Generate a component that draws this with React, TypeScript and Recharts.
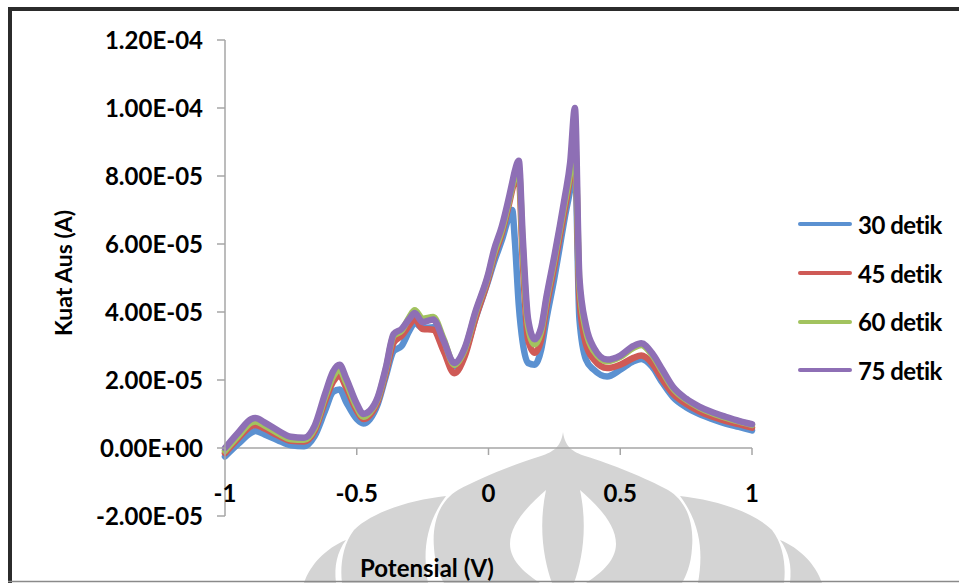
import React from "react";
import { LineChart, Line, XAxis, YAxis, ReferenceLine } from "recharts";

// Potential (V) sampled along the scan; current values are in units of 1E-05 A
const potential = [
  -1.0, -0.95, -0.9, -0.885, -0.85, -0.8, -0.75, -0.7, -0.66, -0.62, -0.59, -0.565, -0.54, -0.5, -0.475, -0.45,
  -0.42, -0.39, -0.36, -0.33, -0.3, -0.28, -0.25, -0.21, -0.17, -0.13, -0.09, -0.05, 0.0, 0.02, 0.05, 0.08, 0.09,
  0.1, 0.115, 0.13, 0.15, 0.175, 0.2, 0.22, 0.25, 0.27, 0.29, 0.31, 0.328, 0.345, 0.37, 0.4, 0.45, 0.5, 0.55,
  0.58, 0.62, 0.66, 0.7, 0.75, 0.8, 0.85, 0.9, 0.95, 1.0,
];

const detik30 = [
  -0.25, 0.12, 0.45, 0.5, 0.4, 0.23, 0.08, 0.05, 0.35, 1.1, 1.65, 1.72, 1.35, 0.85, 0.72, 0.85,
  1.3, 2.1, 2.85, 3.0, 3.45, 3.68, 3.52, 3.55, 2.95, 2.4, 2.8, 3.8, 4.95, 5.45, 6.1, 6.85, 7.0,
  6.1, 4.2, 3.1, 2.5, 2.45, 2.9, 3.8, 5.0, 5.9, 6.8, 7.6, 8.5, 3.8, 2.6, 2.3, 2.1, 2.3, 2.55,
  2.62, 2.4, 1.92, 1.5, 1.2, 1.0, 0.85, 0.72, 0.62, 0.52,
];

const detik45 = [
  -0.15, 0.28, 0.65, 0.68, 0.57, 0.37, 0.21, 0.19, 0.5, 1.38, 1.95, 2.12, 1.78, 1.1, 0.85, 0.97,
  1.38, 2.2, 3.1, 3.3, 3.62, 3.8, 3.5, 3.48, 2.85, 2.2, 2.7, 3.8, 5.0, 5.6, 6.3, 7.25, 7.6,
  7.85, 7.95, 5.5, 3.2, 2.8, 3.2, 4.15, 5.35, 6.2, 7.05, 7.95, 9.0, 4.4, 3.05, 2.6, 2.35, 2.45, 2.65,
  2.72, 2.5, 2.02, 1.6, 1.3, 1.08, 0.92, 0.8, 0.7, 0.6,
];

const detik60 = [
  -0.08, 0.35, 0.75, 0.78, 0.66, 0.44, 0.26, 0.24, 0.58, 1.5, 2.1, 2.3, 1.92, 1.2, 0.92, 1.05,
  1.45, 2.3, 3.3, 3.45, 3.85, 4.05, 3.8, 3.85, 3.2, 2.45, 2.9, 3.95, 5.1, 5.7, 6.4, 7.35, 7.7,
  8.0, 8.2, 5.9, 3.6, 3.05, 3.45, 4.35, 5.55, 6.4, 7.25, 8.1, 9.15, 4.8, 3.45, 2.85, 2.55, 2.68, 2.95,
  3.03, 2.75, 2.25, 1.76, 1.42, 1.19, 1.02, 0.89, 0.78, 0.68,
];

const detik75 = [
  0.0, 0.45, 0.85, 0.88, 0.75, 0.52, 0.33, 0.3, 0.65, 1.6, 2.25, 2.45, 2.05, 1.3, 1.0, 1.1,
  1.5, 2.35, 3.35, 3.5, 3.8, 3.97, 3.7, 3.78, 3.15, 2.5, 2.95, 4.0, 5.15, 5.8, 6.5, 7.45, 7.8,
  8.15, 8.45, 6.2, 3.8, 3.2, 3.55, 4.45, 5.65, 6.5, 7.4, 8.4, 10.0, 5.0, 3.6, 2.95, 2.6, 2.72, 3.0,
  3.08, 2.8, 2.3, 1.8, 1.45, 1.22, 1.05, 0.92, 0.8, 0.7,
];

const xTicks = [-1, -0.5, 0, 0.5, 1];
const yTicks = [-2, 0, 2, 4, 6, 8, 10, 12];

const series = [
  { key: "d30", name: "30 detik", color: "#5b91d1", values: detik30 },
  { key: "d45", name: "45 detik", color: "#cf5a56", values: detik45 },
  { key: "d60", name: "60 detik", color: "#a2c35f", values: detik60 },
  { key: "d75", name: "75 detik", color: "#8e6fb5", values: detik75 },
];

const data = potential.map((v, i) => {
  const row: Record<string, number> = { v };
  series.forEach((s) => (row[s.key] = s.values[i]));
  return row;
});

const W = 959;
const H = 583;
const PLOT_TOP = 40;
const PLOT_LEFT = 225;
const PLOT_RIGHT = 752;
const PLOT_BOTTOM = 516;
const PLOT_H = PLOT_BOTTOM - PLOT_TOP;
const Y_MIN = -2;
const Y_MAX = 12;
// distance from plot bottom (-2E-05) up to the 0 line, where Excel crosses the x axis
const ZERO_UP = (PLOT_H * (0 - Y_MIN)) / (Y_MAX - Y_MIN);

const AXIS = "#a6a6a6";
const FONT = "Lato, 'Open Sans', sans-serif";
const WM = "#d4d4d4";

const fmtSci = (v: number) => {
  const val = v * 1e-5;
  if (Math.abs(val) < 1e-12) return "0.00E+00";
  const exp = Math.floor(Math.log10(Math.abs(val)) + 1e-9);
  const mant = val / Math.pow(10, exp);
  const sign = exp < 0 ? "-" : "+";
  return `${mant.toFixed(2)}E${sign}${String(Math.abs(exp)).padStart(2, "0")}`;
};

const XTick = (props: any) => {
  const { x, y, payload } = props;
  const zeroY = y - ZERO_UP;
  return (
    <g>
      <line x1={x} x2={x} y1={zeroY} y2={zeroY + 7} stroke={AXIS} strokeWidth={1.5} />
      <text
        x={x}
        y={zeroY + 44}
        textAnchor="middle"
        dominantBaseline="central"
        fill="#000"
        fontSize={24}
        fontWeight={700}
        fontFamily={FONT}
      >
        {String(payload.value)}
      </text>
    </g>
  );
};

const Watermark = () => {
  const half = (
    <>
      <path d="M446,496 C410,500 372,512 354,530 C342,545 340,568 342,583 L428,583 C424,560 422,528 446,496 Z" />
      <path d="M346,540 C326,548 310,565 304,583 L336,583 C334,566 337,552 346,540 Z" />
    </>
  );
  return (
    <g fill={WM}>
      <path d="M563,432 C561,447 553,452 541,456 C515,464 480,478 458,490 C438,502 432,525 434,548 C435,565 440,576 444,583 L682,583 C686,576 691,565 692,548 C694,525 688,502 668,490 C646,478 611,464 585,456 C573,452 565,447 563,432 Z" />
      <path
        fill="#fff"
        d="M546,490 C528,506 510,524 510,544 C510,562 528,575 540,583 L552,583 C544,560 538,528 546,490 Z"
      />
      <path
        fill="#fff"
        d="M580,490 C598,506 616,524 616,544 C616,562 598,575 586,583 L574,583 C582,560 588,528 580,490 Z"
      />
      {half}
      <g transform="translate(1126,0) scale(-1,1)">{half}</g>
    </g>
  );
};

export default function App() {
  return (
    <div style={{ position: "absolute", left: 0, top: 0, width: W, height: H, background: "#fff", overflow: "hidden" }}>
      <svg width={W} height={H} style={{ position: "absolute", left: 0, top: 0 }}>
        <Watermark />
        <line x1={10} x2={10} y1={7} y2={H} stroke="#2b2b2b" strokeWidth={4} />
        <line x1={8} x2={W} y1={9} y2={9} stroke="#2b2b2b" strokeWidth={4} />
        <line x1={8} x2={W} y1={581.5} y2={581.5} stroke="#8a8a8a" strokeWidth={1.5} />
        <text
          transform="translate(63,273) rotate(-90)"
          textAnchor="middle"
          dominantBaseline="central"
          fontSize={23}
          fontWeight={700}
          fontFamily={FONT}
          fill="#000"
        >
          Kuat Aus (A)
        </text>
        <text
          x={427}
          y={567}
          textAnchor="middle"
          dominantBaseline="central"
          fontSize={24}
          fontWeight={700}
          fontFamily={FONT}
          fill="#000"
        >
          Potensial (V)
        </text>
      </svg>

      <div style={{ position: "absolute", left: 0, top: 0 }}>
        <LineChart
          width={W}
          height={H}
          data={data}
          margin={{ top: PLOT_TOP, right: W - PLOT_RIGHT, left: 0, bottom: 0 }}
        >
          <XAxis
            dataKey="v"
            type="number"
            domain={[-1, 1]}
            ticks={xTicks}
            height={H - PLOT_BOTTOM}
            axisLine={false}
            tickLine={false}
            tickSize={0}
            tickMargin={0}
            tick={<XTick />}
            interval={0}
          />
          <YAxis
            type="number"
            domain={[Y_MIN, Y_MAX]}
            ticks={yTicks}
            width={PLOT_LEFT}
            interval={0}
            tickFormatter={fmtSci}
            axisLine={{ stroke: AXIS, strokeWidth: 1.5 }}
            tickLine={{ stroke: AXIS, strokeWidth: 1.5 }}
            tickSize={8}
            tickMargin={14}
            tick={{ fill: "#000", fontSize: 24, fontWeight: 700, fontFamily: FONT }}
          />
          <ReferenceLine y={0} stroke={AXIS} strokeWidth={1.5} />
          {series.map((s) => (
            <Line
              key={s.key}
              dataKey={s.key}
              name={s.name}
              type="monotone"
              stroke={s.color}
              strokeWidth={6.5}
              strokeLinejoin="round"
              strokeLinecap="round"
              dot={false}
              isAnimationActive={false}
            />
          ))}
        </LineChart>
      </div>

      <div style={{ position: "absolute", left: 798, top: 200, fontFamily: FONT }}>
        {series.map((s) => (
          <div key={s.key} style={{ display: "flex", alignItems: "center", height: 48.7 }}>
            <div style={{ width: 54, height: 4, borderRadius: 2, background: s.color, marginRight: 6 }} />
            <span style={{ fontSize: 24, fontWeight: 700, color: "#000", letterSpacing: -0.5 }}>{s.name}</span>
          </div>
        ))}
      </div>
    </div>
  );
}
